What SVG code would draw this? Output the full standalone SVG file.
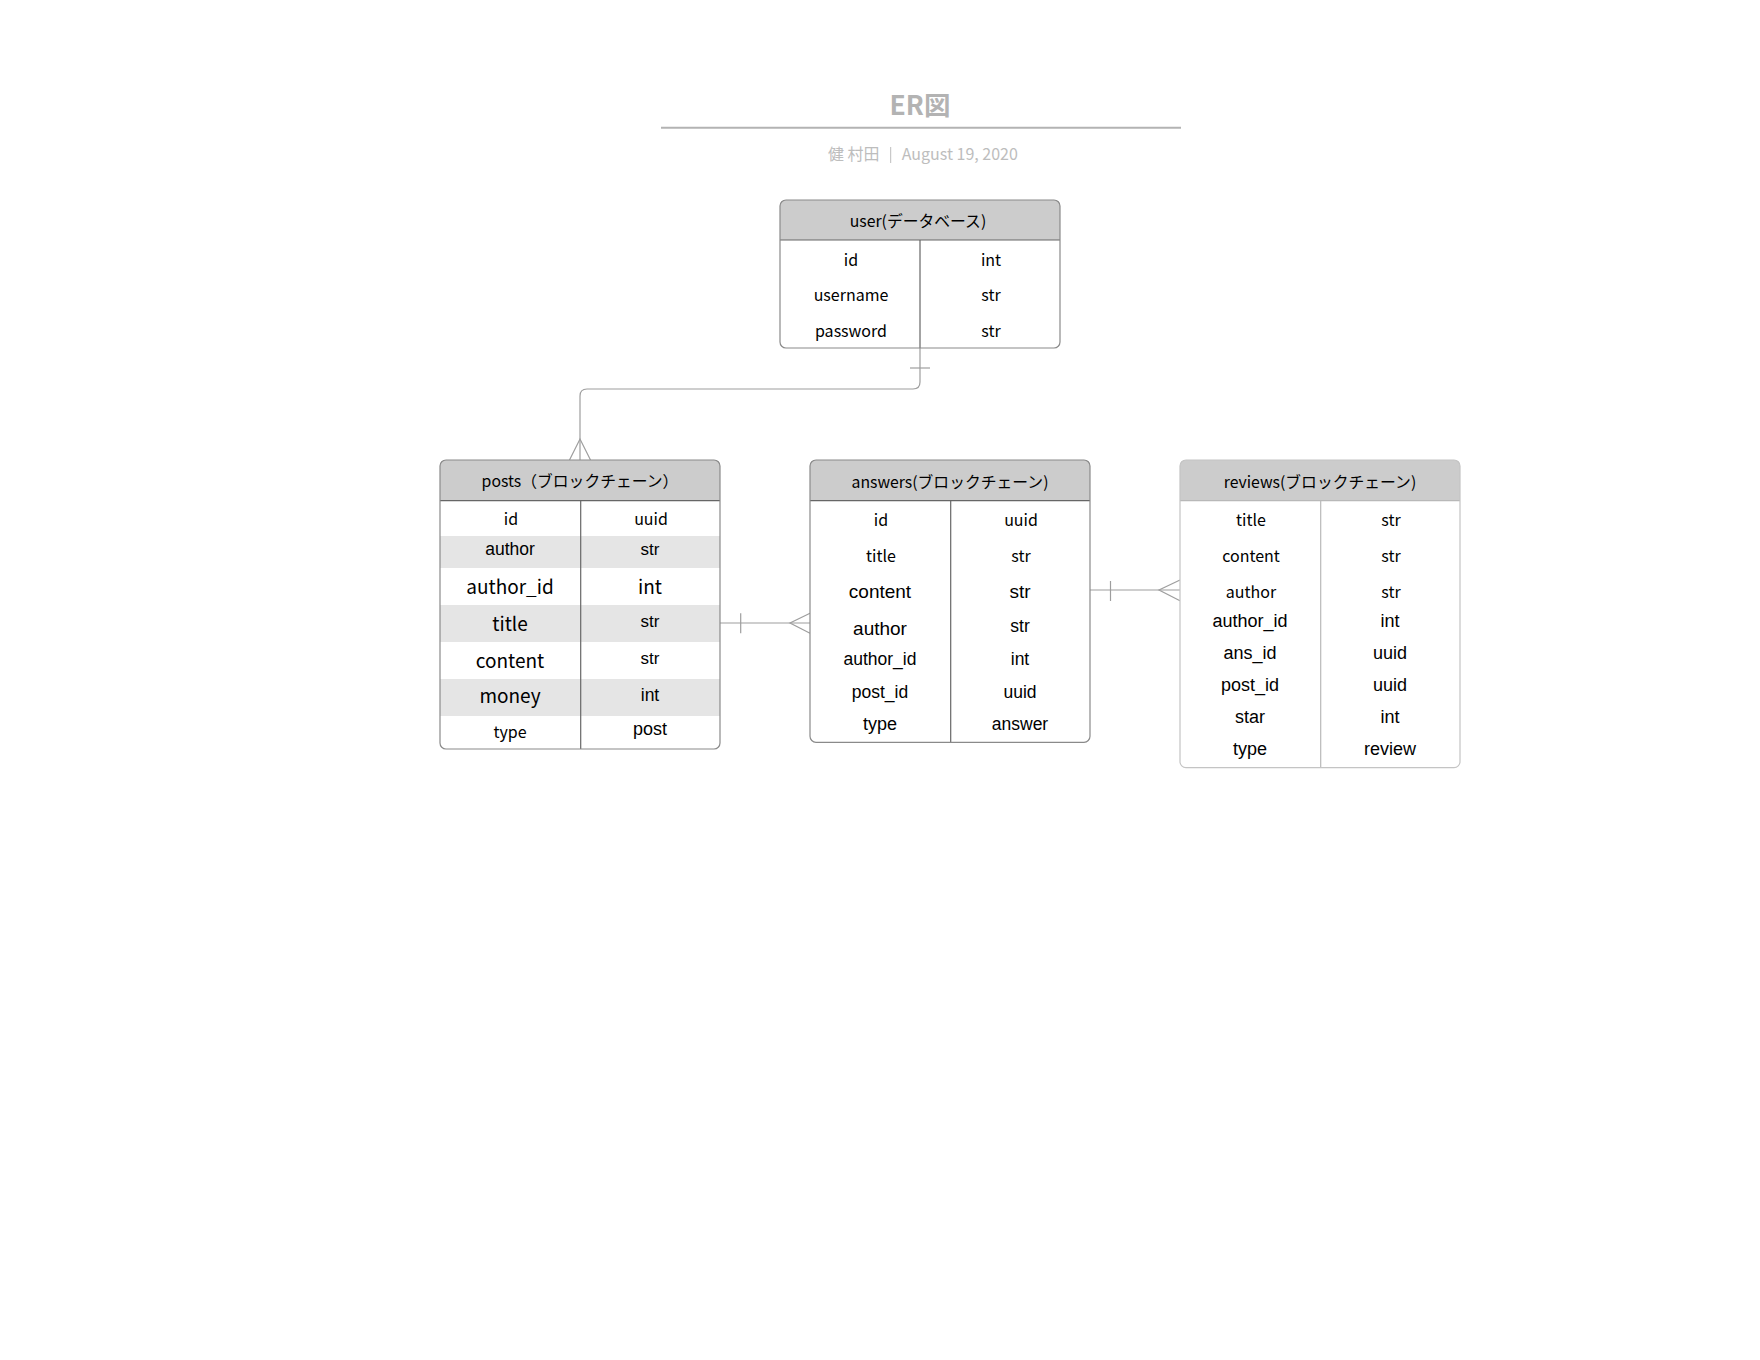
<svg xmlns="http://www.w3.org/2000/svg" width="1760" height="1360" viewBox="0 0 1760 1360">
<style>
.n{font-family:"Noto Sans CJK JP","Noto Sans",sans-serif;fill:#000;text-anchor:middle}
.a{font-family:"Liberation Sans",Arial,sans-serif;fill:#000;text-anchor:middle}
.hd{fill:#cccccc}
.st{fill:#e5e5e5}
.box{fill:none;stroke:#8a8a8a;stroke-width:1.2}
.boxl{fill:none;stroke:#c4c4c4;stroke-width:1.2}
.div{stroke:#666;stroke-width:1.2}
.divl{stroke:#b8b8b8;stroke-width:1.2}
.conn{fill:none;stroke:#9e9e9e;stroke-width:1.2}
</style>
<rect width="1760" height="1360" fill="#fff"/>
<g id="title">
<text x="920" y="115" font-family="'Noto Sans CJK JP','Noto Sans',sans-serif" font-size="26.5" font-weight="700" fill="#b3b3b3" text-anchor="middle">ER図</text>
<line x1="661" y1="127.7" x2="1181" y2="127.7" stroke="#b3b3b3" stroke-width="2"/>
<text x="828" y="160" font-family="'Noto Sans CJK JP','Noto Sans',sans-serif" font-size="16" fill="#bdbdbd">健 村田</text>
<line x1="890.7" y1="147" x2="890.7" y2="163" stroke="#bdbdbd" stroke-width="1"/>
<text x="901.7" y="160" font-family="'Noto Sans CJK JP','Noto Sans',sans-serif" font-size="16" fill="#bdbdbd">August 19, 2020</text>
</g>
<g id="connectors">
<path class="conn" d="M920,348 V382 Q920,389 913,389 H587 Q580,389 580,396 V460"/>
<line class="conn" x1="910" y1="368" x2="930" y2="368"/>
<path class="conn" d="M569.5,460 L580,439 L590.5,460"/>
<line class="conn" x1="720" y1="623" x2="810" y2="623"/>
<line class="conn" x1="740.7" y1="613.3" x2="740.7" y2="633.3"/>
<path class="conn" d="M810,613.3 L790,623 L810,633.3"/>
<line class="conn" x1="1090" y1="590" x2="1180" y2="590"/>
<line class="conn" x1="1110.5" y1="581" x2="1110.5" y2="601"/>
<path class="conn" d="M1180,580 L1159,590 L1180,600.7"/>
</g>
<g id="user">
<rect x="780" y="200" width="280" height="148" rx="6" fill="#fff"/>
<path class="hd" d="M780,240 V206 Q780,200 786,200 H1054 Q1060,200 1060,206 V240 Z"/>
<line class="div" x1="780" y1="240" x2="1060" y2="240"/>
<line class="div" x1="920" y1="240" x2="920" y2="348"/>
<rect class="box" x="780" y="200" width="280" height="148" rx="6"/>
<text class="n" x="918" y="227" font-size="15.8">user(データベース)</text>
<text class="n" x="851" y="266" font-size="16">id</text>
<text class="n" x="991" y="266" font-size="16">int</text>
<text class="n" x="851" y="301" font-size="16">username</text>
<text class="n" x="991" y="301" font-size="16">str</text>
<text class="n" x="851" y="337" font-size="16">password</text>
<text class="n" x="991" y="337" font-size="16">str</text>
</g>
<g id="posts">
<rect x="440" y="460" width="280" height="289" rx="6" fill="#fff"/>
<path class="hd" d="M440,500.7 V466 Q440,460 446,460 H714 Q720,460 720,466 V500.7 Z"/>
<rect class="st" x="440" y="536" width="280" height="32"/>
<rect class="st" x="440" y="605" width="280" height="37"/>
<rect class="st" x="440" y="679" width="280" height="37"/>
<line class="div" x1="440" y1="500.7" x2="720" y2="500.7"/>
<line class="div" x1="580.7" y1="500.7" x2="580.7" y2="749"/>
<rect class="box" x="440" y="460" width="280" height="289" rx="6"/>
<text class="n" x="580" y="487" font-size="15.8">posts（ブロックチェーン）</text>
<text class="n" x="511" y="525" font-size="16">id</text>
<text class="n" x="651" y="525" font-size="16">uuid</text>
<text class="a" x="510" y="555" font-size="17.5">author</text>
<text class="a" x="650" y="555" font-size="17">str</text>
<text class="n" x="510" y="594" font-size="19">author_id</text>
<text class="n" x="650" y="594" font-size="19">int</text>
<text class="n" x="510" y="631" font-size="19">title</text>
<text class="a" x="650" y="627" font-size="17">str</text>
<text class="n" x="510" y="668" font-size="19">content</text>
<text class="a" x="650" y="664" font-size="17">str</text>
<text class="n" x="510" y="703" font-size="19">money</text>
<text class="a" x="650" y="701" font-size="17.5">int</text>
<text class="n" x="510" y="738" font-size="16">type</text>
<text class="a" x="650" y="735" font-size="18">post</text>
</g>
<g id="answers">
<rect x="810" y="460" width="280" height="282.3" rx="6" fill="#fff"/>
<path class="hd" d="M810,500.7 V466 Q810,460 816,460 H1084 Q1090,460 1090,466 V500.7 Z"/>
<line class="div" x1="810" y1="500.7" x2="1090" y2="500.7"/>
<line class="div" x1="950.7" y1="500.7" x2="950.7" y2="742.3"/>
<rect class="box" x="810" y="460" width="280" height="282.3" rx="6"/>
<text class="n" x="950" y="488" font-size="15.8">answers(ブロックチェーン)</text>
<text class="n" x="881" y="526" font-size="16">id</text>
<text class="n" x="1021" y="526" font-size="16">uuid</text>
<text class="n" x="881" y="562" font-size="16">title</text>
<text class="n" x="1021" y="562" font-size="16">str</text>
<text class="a" x="880" y="597.7" font-size="19">content</text>
<text class="a" x="1020" y="597.7" font-size="19">str</text>
<text class="a" x="880" y="635" font-size="19">author</text>
<text class="a" x="1020" y="631.7" font-size="17.5">str</text>
<text class="a" x="880" y="665" font-size="17.5">author_id</text>
<text class="a" x="1020" y="665" font-size="17.5">int</text>
<text class="a" x="880" y="698.3" font-size="17.5">post_id</text>
<text class="a" x="1020" y="698.3" font-size="17.5">uuid</text>
<text class="a" x="880" y="730" font-size="18">type</text>
<text class="a" x="1020" y="730" font-size="17.5">answer</text>
</g>
<g id="reviews">
<rect x="1180" y="460" width="280" height="307.7" rx="6" fill="#fff"/>
<path class="hd" d="M1180,500.7 V466 Q1180,460 1186,460 H1454 Q1460,460 1460,466 V500.7 Z"/>
<line class="divl" x1="1180" y1="500.7" x2="1460" y2="500.7"/>
<line class="divl" x1="1320.7" y1="500.7" x2="1320.7" y2="767.7"/>
<rect class="boxl" x="1180" y="460" width="280" height="307.7" rx="6"/>
<text class="n" x="1320" y="488" font-size="15.8">reviews(ブロックチェーン)</text>
<text class="n" x="1251" y="526" font-size="16">title</text>
<text class="n" x="1391" y="526" font-size="16">str</text>
<text class="n" x="1251" y="561.7" font-size="16">content</text>
<text class="n" x="1391" y="561.7" font-size="16">str</text>
<text class="n" x="1251" y="597.7" font-size="16">author</text>
<text class="n" x="1391" y="597.7" font-size="16">str</text>
<text class="a" x="1250" y="626.7" font-size="18">author_id</text>
<text class="a" x="1390" y="626.7" font-size="18">int</text>
<text class="a" x="1250" y="659" font-size="18">ans_id</text>
<text class="a" x="1390" y="659" font-size="18">uuid</text>
<text class="a" x="1250" y="690.7" font-size="18">post_id</text>
<text class="a" x="1390" y="690.7" font-size="18">uuid</text>
<text class="a" x="1250" y="723.3" font-size="18">star</text>
<text class="a" x="1390" y="723.3" font-size="18">int</text>
<text class="a" x="1250" y="755" font-size="18">type</text>
<text class="a" x="1390" y="755" font-size="18">review</text>
</g>
</svg>
